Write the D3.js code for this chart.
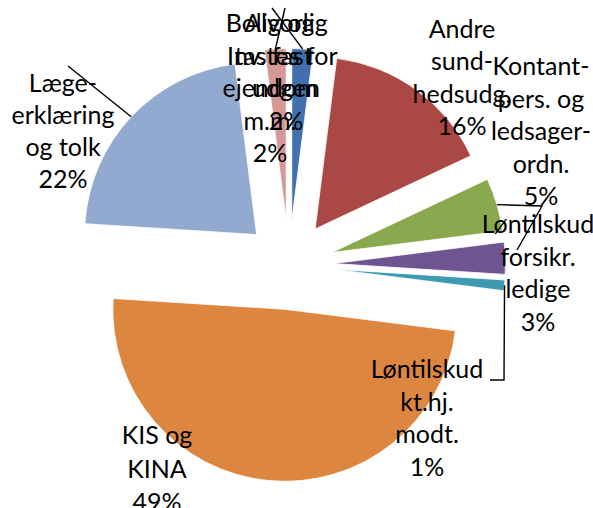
<!DOCTYPE html>
<html><head><meta charset="utf-8">
<script src="https://cdn.jsdelivr.net/npm/d3@7"></script>
<style>html,body{margin:0;padding:0;background:#fff;}svg{display:block;}</style>
</head><body>
<svg id="chart" width="593" height="508"></svg>
<script>
// ---- data ----
const categories = [
  "Alvorlig tastes for udgen",
  "Andre sundhedsudg.",
  "Kontantpers. og ledsagerordn.",
  "Løntilskud forsikr. ledige",
  "Løntilskud kt.hj. modt.",
  "KIS og KINA",
  "Lægeerklæring og tolk",
  "Bolig og Inv. fast ejendom m.m."
];
const values = [2, 16, 5, 3, 1, 49, 22, 2];
const labelLines = [
  ["Alvorlig", "tastes for", "udgen", "2%"],
  ["Andre", "sund-", "hedsudg.", "16%"],
  ["Kontant-", "pers. og", "ledsager-", "ordn.", "5%"],
  ["Løntilskud", "forsikr.", "ledige", "3%"],
  ["Løntilskud", "kt.hj.", "modt.", "1%"],
  ["KIS og", "KINA", "49%"],
  ["Læge-", "erklæring", "og tolk", "22%"],
  ["Bolig og", "Inv. fast", "ejendom", "m.m.", "2%"]
];
const colors = ["#4171AC", "#AA4845", "#8AA84E", "#6F5491", "#3E9AB2", "#DD8640", "#92AACF", "#D49997"];

// ---- layout ----
const W = 593, H = 508;
const cx = 289, cy = 265, R = 172, explode = 44.5;
const fontSize = 25;
// label anchors: center x, first baseline, line height
const labelPos = [
  [286, 32, 32.5], [462, 38, 32.3], [541, 75, 32.5], [538, 233, 32.5], [427, 378, 32.5], [157, 444, 33.5], [63, 92, 32], [270, 32, 32.5]
];
// leader line end points
const leaderEnds = [
  [[272, 8]], null, [[542, 206], [517, 250]], null, [[504, 380], [490, 380]], null, [[68, 66]], [[285, 8]]
];

const svg = d3.select("#chart");
const pie = d3.pie().sort(null).value(d => d).startAngle(0).endAngle(2 * Math.PI);
const arcs = pie(values);
const arc = d3.arc().innerRadius(0).outerRadius(R);

function offset(a) {
  const m = (a.startAngle + a.endAngle) / 2;
  return [cx + explode * Math.sin(m), cy - explode * Math.cos(m)];
}

svg.selectAll("path.slice").data(arcs).enter().append("path")
  .attr("class", "slice")
  .attr("transform", d => { const o = offset(d); return `translate(${o[0]},${o[1]})`; })
  .attr("d", arc)
  .attr("fill", (d, i) => colors[i])
  .attr("stroke", "#fff").attr("stroke-width", 0.8);

// leader lines
arcs.forEach((a, i) => {
  if (!leaderEnds[i]) return;
  const o = offset(a);
  const m = (a.startAngle + a.endAngle) / 2;
  const start = [o[0] + R * Math.sin(m), o[1] - R * Math.cos(m)];
  const pts = [start].concat(leaderEnds[i]);
  svg.append("path")
    .attr("d", d3.line()(pts))
    .attr("fill", "none").attr("stroke", "#000").attr("stroke-width", 1.4);
});

// labels
labelLines.forEach((lines, i) => {
  const t = svg.append("text")
    .attr("text-anchor", "middle")
    .attr("font-family", "Lato, 'Open Sans', sans-serif")
    .attr("font-size", fontSize)
    .attr("fill", "#000");
  lines.forEach((ln, j) => {
    t.append("tspan").attr("x", labelPos[i][0]).attr("y", labelPos[i][1] + j * labelPos[i][2]).text(ln);
  });
});
</script>
</body></html>
